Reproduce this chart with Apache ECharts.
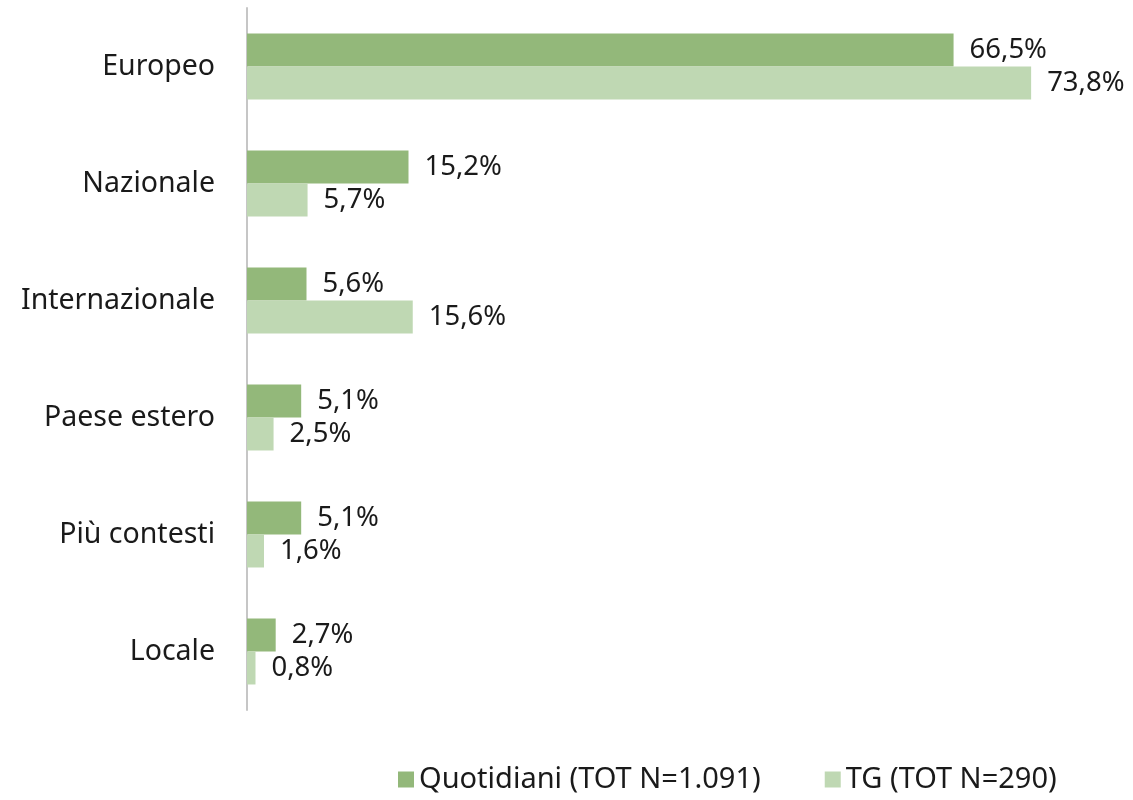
<!DOCTYPE html>
<html>
<head>
<meta charset="utf-8">
<script src="https://cdn.jsdelivr.net/npm/echarts@6/dist/echarts.min.js"></script>
<style>
  html, body { margin: 0; padding: 0; background: #fff; }
  #main { width: 1133px; height: 800px; }
</style>
</head>
<body>
<div id="main"></div>
<script>
var categories = ["Europeo", "Nazionale", "Internazionale", "Paese estero", "Più contesti", "Locale"];
var quotidiani = [66.5, 15.2, 5.6, 5.1, 5.1, 2.7];
var tg = [73.8, 5.7, 15.6, 2.5, 1.6, 0.8];
var seriesNames = ["Quotidiani (TOT N=1.091)", "TG (TOT N=290)"];

var chart = echarts.init(document.getElementById("main"));
var font = "'Noto Sans', sans-serif";

function pct(p) {
  return p.value.toFixed(1).replace(".", ",") + "%";
}

var option = {
  backgroundColor: "#ffffff",
  animation: false,
  textStyle: { fontFamily: font },
  legend: {
    bottom: 1,
    left: 393,
    itemWidth: 16,
    itemHeight: 16,
    itemGap: 64,
    icon: "rect",
    textStyle: { fontSize: 29, color: "#1a1a1a", fontFamily: font },
    data: seriesNames
  },
  grid: {
    left: 247,
    top: 8,
    width: 850,
    height: 702
  },
  xAxis: {
    type: "value",
    min: 0,
    max: 80,
    show: false
  },
  yAxis: {
    type: "category",
    inverse: true,
    data: categories,
    axisLine: { show: true, lineStyle: { color: "#c6c6c6", width: 2 } },
    axisTick: { show: false },
    axisLabel: { fontSize: 28.5, color: "#1a1a1a", margin: 32, fontFamily: font }
  },
  series: [
    {
      name: seriesNames[0],
      type: "bar",
      data: quotidiani,
      barGap: "0%",
      barCategoryGap: "43.6%",
      itemStyle: { color: "#93b87a" },
      label: { show: true, position: "right", distance: 16, fontSize: 27.5, color: "#1a1a1a", formatter: pct }
    },
    {
      name: seriesNames[1],
      type: "bar",
      data: tg,
      barGap: "0%",
      barCategoryGap: "43.6%",
      itemStyle: { color: "#bfd8b3" },
      label: { show: true, position: "right", distance: 16, fontSize: 27.5, color: "#1a1a1a", formatter: pct }
    }
  ]
};
chart.setOption(option);
</script>
</body>
</html>
